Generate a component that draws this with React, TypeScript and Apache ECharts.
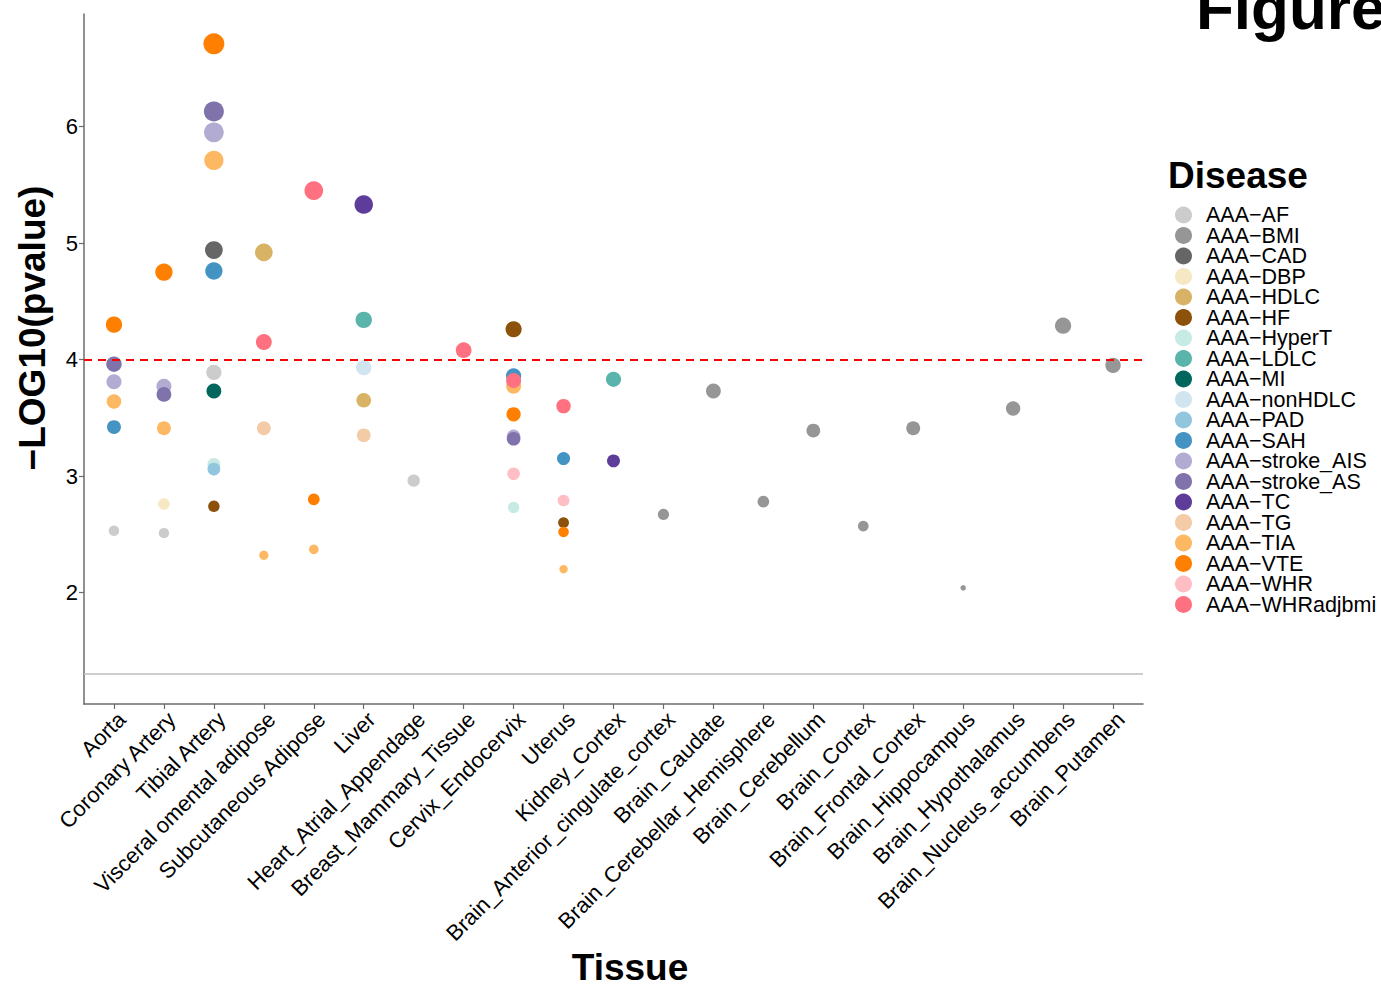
import React, { useEffect, useRef } from "react";
import * as echarts from "echarts";

const tissues = [
  "Aorta", "Coronary Artery", "Tibial Artery", "Visceral omental adipose", "Subcutaneous Adipose",
  "Liver", "Heart_Atrial_Appendage", "Breast_Mammary_Tissue", "Cervix_Endocervix", "Uterus",
  "Kidney_Cortex", "Brain_Anterior_cingulate_cortex", "Brain_Caudate", "Brain_Cerebellar_Hemisphere",
  "Brain_Cerebellum", "Brain_Cortex", "Brain_Frontal_Cortex", "Brain_Hippocampus",
  "Brain_Hypothalamus", "Brain_Nucleus_accumbens", "Brain_Putamen",
];

const diseases = [
  "AAA−AF", "AAA−BMI", "AAA−CAD", "AAA−DBP", "AAA−HDLC", "AAA−HF", "AAA−HyperT", "AAA−LDLC",
  "AAA−MI", "AAA−nonHDLC", "AAA−PAD", "AAA−SAH", "AAA−stroke_AIS", "AAA−stroke_AS", "AAA−TC",
  "AAA−TG", "AAA−TIA", "AAA−VTE", "AAA−WHR", "AAA−WHRadjbmi",
];

const colors = [
  "#CCCCCC", "#969696", "#666666", "#F6E8C3", "#D8B365", "#8C510A", "#C7EAE5", "#5AB4AC",
  "#01665E", "#D1E5F0", "#92C5DE", "#4393C3", "#B2ABD2", "#8073AC", "#5E3C99",
  "#F3CBA7", "#FDB863", "#FF7F00", "#FFBDC4", "#FF7080",
];

type P = [string, number];
const AF: P[] = [["Aorta", 2.53], ["Coronary Artery", 2.51], ["Tibial Artery", 3.89], ["Heart_Atrial_Appendage", 2.96]];
const BMI: P[] = [
  ["Brain_Anterior_cingulate_cortex", 2.67], ["Brain_Caudate", 3.73], ["Brain_Cerebellar_Hemisphere", 2.78],
  ["Brain_Cerebellum", 3.39], ["Brain_Cortex", 2.57], ["Brain_Frontal_Cortex", 3.41], ["Brain_Hippocampus", 2.04],
  ["Brain_Hypothalamus", 3.58], ["Brain_Nucleus_accumbens", 4.29], ["Brain_Putamen", 3.95],
];
const CAD: P[] = [["Tibial Artery", 4.94]];
const DBP: P[] = [["Coronary Artery", 2.76]];
const HDLC: P[] = [["Visceral omental adipose", 4.92], ["Liver", 3.65]];
const HF: P[] = [["Tibial Artery", 2.74], ["Cervix_Endocervix", 4.26], ["Uterus", 2.6]];
const HyperT: P[] = [["Tibial Artery", 3.1], ["Cervix_Endocervix", 2.73]];
const LDLC: P[] = [["Liver", 4.34], ["Kidney_Cortex", 3.83]];
const MI: P[] = [["Tibial Artery", 3.73]];
const nonHDLC: P[] = [["Liver", 3.93]];
const PAD: P[] = [["Tibial Artery", 3.06]];
const SAH: P[] = [["Aorta", 3.42], ["Tibial Artery", 4.76], ["Cervix_Endocervix", 3.86], ["Uterus", 3.15]];
const strokeAIS: P[] = [["Aorta", 3.81], ["Coronary Artery", 3.77], ["Tibial Artery", 5.95], ["Cervix_Endocervix", 3.34]];
const strokeAS: P[] = [["Aorta", 3.96], ["Coronary Artery", 3.7], ["Tibial Artery", 6.13], ["Cervix_Endocervix", 3.32]];
const TC: P[] = [["Liver", 5.33], ["Kidney_Cortex", 3.13]];
const TG: P[] = [["Visceral omental adipose", 3.41], ["Liver", 3.35]];
const TIA: P[] = [
  ["Aorta", 3.64], ["Coronary Artery", 3.41], ["Tibial Artery", 5.71], ["Visceral omental adipose", 2.32],
  ["Subcutaneous Adipose", 2.37], ["Cervix_Endocervix", 3.77], ["Uterus", 2.2],
];
const VTE: P[] = [
  ["Aorta", 4.3], ["Coronary Artery", 4.75], ["Tibial Artery", 6.71], ["Subcutaneous Adipose", 2.8],
  ["Cervix_Endocervix", 3.53], ["Uterus", 2.52],
];
const WHR: P[] = [["Cervix_Endocervix", 3.02], ["Uterus", 2.79]];
const WHRadjbmi: P[] = [
  ["Visceral omental adipose", 4.15], ["Subcutaneous Adipose", 5.45], ["Breast_Mammary_Tissue", 4.08],
  ["Cervix_Endocervix", 3.82], ["Uterus", 3.6],
];

const seriesPoints: P[][] = [
  AF, BMI, CAD, DBP, HDLC, HF, HyperT, LDLC, MI, nonHDLC, PAD, SAH, strokeAIS, strokeAS, TC, TG, TIA, VTE, WHR, WHRadjbmi,
];

const yTicks = [2, 3, 4, 5, 6];
const threshold = 4;
const significance = 1.301;

const allVals = seriesPoints.flat().map((p) => p[1]);
const vMin = Math.min(...allVals);
const vMax = Math.max(...allVals);
const sizeOf = (v: number) => 5.5 + 15.5 * Math.sqrt((v - vMin) / (vMax - vMin));

const FONT = "Liberation Sans, Arial, sans-serif";

export default function App() {
  const ref = useRef<HTMLDivElement>(null);
  useEffect(() => {
    if (!ref.current) return;
    const chart = echarts.init(ref.current, undefined, { renderer: "svg" });
    const idx = tissues.map((_, i) => i);
    const series: any[] = diseases.map((d, i) => ({
      name: d,
      type: "scatter",
      data: seriesPoints[i].map((p) => [tissues.indexOf(p[0]), p[1]]),
      symbolSize: (val: number[]) => sizeOf(val[1]),
      itemStyle: { color: colors[i], opacity: 1 },
      emphasis: { disabled: true },
      z: 3,
    }));
    series.unshift({
      name: "lines",
      type: "scatter",
      data: [],
      silent: true,
      z: 2,
      markLine: {
        silent: true,
        symbol: "none",
        label: { show: false },
        animation: false,
        data: [
          { yAxis: threshold, lineStyle: { color: "#FF0000", type: [8, 6], width: 2 } },
          { yAxis: significance, lineStyle: { color: "#BEBEBE", type: "solid", width: 1.5 } },
        ],
      },
    });
    chart.setOption({
      animation: false,
      backgroundColor: "#FFFFFF",
      textStyle: { fontFamily: FONT },
      grid: { left: 84, top: 14, width: 1059, height: 690, containLabel: false },
      xAxis: {
        type: "value",
        min: -0.6,
        max: tissues.length - 1 + 0.6,
        splitLine: { show: false },
        axisLine: { show: true, onZero: false, lineStyle: { color: "#6B6B6B", width: 1.5 } },
        axisTick: { show: true, customValues: idx, length: 5, lineStyle: { color: "#6B6B6B", width: 1.2 } },
        axisLabel: {
          customValues: idx,
          rotate: 45,
          margin: 4,
          verticalAlign: "top",
          fontSize: 22,
          color: "#000000",
          fontFamily: FONT,
          formatter: (v: number) => tissues[Math.round(v)] ?? "",
        },
      },
      yAxis: {
        type: "value",
        min: 1.043,
        max: 6.966,
        splitLine: { show: false },
        axisLine: { show: true, onZero: false, lineStyle: { color: "#6B6B6B", width: 1.5 } },
        axisTick: { show: true, customValues: yTicks, length: 5, lineStyle: { color: "#6B6B6B", width: 1.2 } },
        axisLabel: { customValues: yTicks, margin: 6, fontSize: 22, color: "#000000", fontFamily: FONT },
      },
      legend: {
        data: diseases,
        orient: "vertical",
        left: 1175,
        top: 204,
        padding: 0,
        icon: "circle",
        itemWidth: 17,
        itemHeight: 17,
        itemGap: -1.5,
        selectedMode: false,
        textStyle: { fontSize: 21.5, color: "#000000", fontFamily: FONT, padding: [0, 0, 0, 9] },
      },
      graphic: [
        {
          type: "text",
          x: 1196,
          y: 7,
          style: { text: "Figure", font: `bold 62px ${FONT}`, fill: "#000000", textAlign: "left", textVerticalAlign: "middle" },
        },
        {
          type: "text",
          x: 1168,
          y: 175,
          style: { text: "Disease", font: `bold 37px ${FONT}`, fill: "#000000", textAlign: "left", textVerticalAlign: "middle" },
        },
        {
          type: "text",
          x: 630,
          y: 967,
          style: { text: "Tissue", font: `bold 37px ${FONT}`, fill: "#000000", textAlign: "center", textVerticalAlign: "middle" },
        },
        {
          type: "text",
          x: 32,
          y: 328,
          rotation: Math.PI / 2,
          style: { text: "−LOG10(pvalue)", font: `bold 37px ${FONT}`, fill: "#000000", textAlign: "center", textVerticalAlign: "middle" },
        },
      ],
      series,
    });
    return () => chart.dispose();
  }, []);
  return (
    <div style={{ position: "fixed", left: 0, top: 0, width: 1381, height: 986, background: "#fff" }}>
      <div ref={ref} style={{ width: 1381, height: 986 }} />
    </div>
  );
}
